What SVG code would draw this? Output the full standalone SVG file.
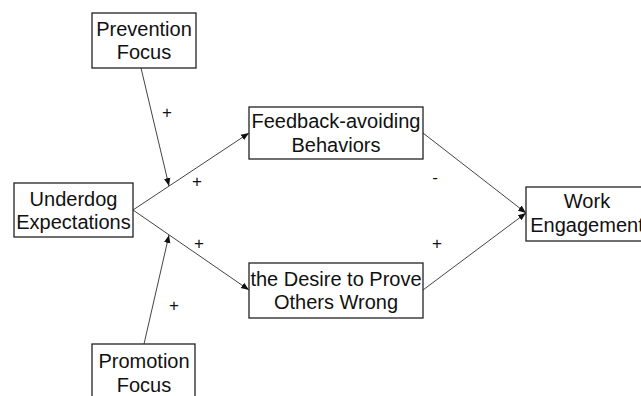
<svg xmlns="http://www.w3.org/2000/svg" width="641" height="396" viewBox="0 0 641 396">
<style>
.box{fill:#fff;stroke:#222;stroke-width:1.3}
.t{font-family:"Liberation Sans",Arial,sans-serif;font-size:20px;fill:#111;text-anchor:middle}
.s{font-family:"Liberation Sans",Arial,sans-serif;font-size:17px;fill:#111;text-anchor:middle}
.ln{stroke:#444;stroke-width:1;fill:none}
</style>
<defs>
<marker id="ah" viewBox="0 0 10 10" refX="10" refY="5" markerWidth="8" markerHeight="8" markerUnits="userSpaceOnUse" orient="auto">
<path d="M0,1 L10,5 L0,9 z" fill="#111"/>
</marker>
</defs>
<rect width="641" height="396" fill="#fff"/>
<g id="connectors">
<line class="ln" x1="133" y1="210" x2="249" y2="133" marker-end="url(#ah)"/>
<line class="ln" x1="133" y1="210" x2="249" y2="290" marker-end="url(#ah)"/>
<line class="ln" x1="423" y1="133" x2="526" y2="213" marker-end="url(#ah)"/>
<line class="ln" x1="423" y1="290" x2="526" y2="213" marker-end="url(#ah)"/>
<line class="ln" x1="141" y1="68" x2="169" y2="186" marker-end="url(#ah)"/>
<line class="ln" x1="144" y1="344" x2="169" y2="235" marker-end="url(#ah)"/>
<text class="s" x="167" y="118">+</text>
<text class="s" x="197" y="187">+</text>
<text class="s" x="199" y="249">+</text>
<text class="s" x="174" y="311">+</text>
<text class="s" x="435" y="183">-</text>
<text class="s" x="437" y="249">+</text>
</g>
<g id="prevention">
<rect class="box" x="92" y="13" width="104" height="55"/>
<text class="t" x="144" y="36">Prevention</text>
<text class="t" x="144" y="59">Focus</text>
</g>
<g id="underdog">
<rect class="box" x="14" y="183" width="119" height="54"/>
<text class="t" x="73.5" y="206">Underdog</text>
<text class="t" x="73.5" y="229">Expectations</text>
</g>
<g id="feedback">
<rect class="box" x="249" y="107" width="174" height="52"/>
<text class="t" x="336" y="128">Feedback-avoiding</text>
<text class="t" x="336" y="152">Behaviors</text>
</g>
<g id="desire">
<rect class="box" x="249" y="263" width="174" height="55"/>
<text class="t" x="336" y="286">the Desire to Prove</text>
<text class="t" x="336" y="309">Others Wrong</text>
</g>
<g id="work">
<rect class="box" x="526" y="187" width="122" height="54"/>
<text class="t" x="587" y="208">Work</text>
<text class="t" x="587" y="232">Engagement</text>
</g>
<g id="promotion">
<rect class="box" x="92" y="344" width="103" height="60"/>
<text class="t" x="144" y="368">Promotion</text>
<text class="t" x="144" y="392">Focus</text>
</g>
</svg>
